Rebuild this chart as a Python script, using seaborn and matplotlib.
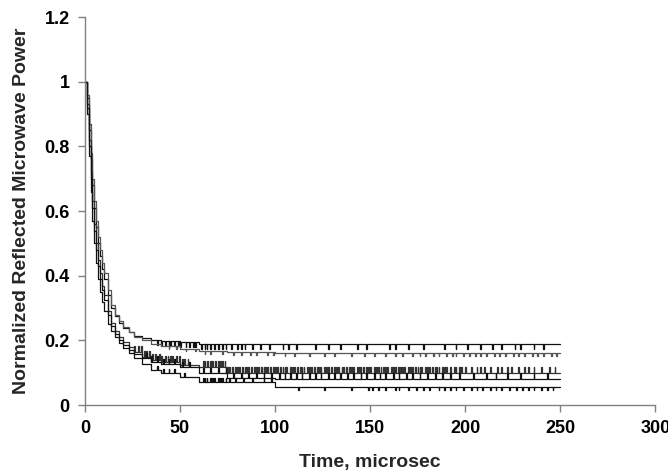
import pandas as pd
import matplotlib.pyplot as plt
import seaborn as sns

# decay knots (microsec) shared by all traces, value held until next knot
t_knots = [0, 1, 2, 3, 4, 5, 6, 7, 8, 9, 10, 12, 14, 16, 18, 20, 23, 26, 30, 35, 40, 50, 60, 75, 100]

# normalized reflected power at each knot, one list per trace
trace_a = [1.0, 0.95, 0.85, 0.76, 0.68, 0.61, 0.55, 0.50, 0.46, 0.42, 0.39, 0.34, 0.30, 0.275, 0.255, 0.24, 0.225, 0.215, 0.207, 0.202, 0.199, 0.194, 0.19, 0.188, 0.188]
trace_b = [1.0, 0.96, 0.87, 0.78, 0.70, 0.63, 0.57, 0.52, 0.48, 0.44, 0.41, 0.355, 0.31, 0.28, 0.26, 0.243, 0.225, 0.212, 0.2, 0.19, 0.182, 0.175, 0.168, 0.163, 0.162]
trace_c = [1.0, 0.93, 0.82, 0.72, 0.63, 0.56, 0.50, 0.45, 0.41, 0.37, 0.34, 0.29, 0.255, 0.23, 0.21, 0.195, 0.18, 0.165, 0.15, 0.14, 0.132, 0.125, 0.118, 0.1, 0.1]
trace_d = [1.0, 0.92, 0.80, 0.70, 0.61, 0.54, 0.48, 0.43, 0.39, 0.355, 0.325, 0.28, 0.245, 0.22, 0.2, 0.185, 0.17, 0.158, 0.145, 0.135, 0.128, 0.118, 0.1, 0.085, 0.082]
trace_e = [1.0, 0.90, 0.77, 0.66, 0.57, 0.50, 0.44, 0.39, 0.35, 0.32, 0.29, 0.25, 0.23, 0.21, 0.193, 0.178, 0.16, 0.145, 0.128, 0.108, 0.1, 0.086, 0.072, 0.072, 0.057]

# quantization flicker: blip start times and the jump size
spikes_a = [38, 40, 42, 44, 45, 47, 49, 50, 53, 55, 57, 58, 61, 63, 64, 66, 68, 70, 72, 74, 77, 80, 82, 84, 88, 92, 97, 104, 107, 111, 121, 128, 134, 143, 148, 160, 163, 170, 178, 189, 195, 201, 208, 214, 219, 226, 229, 236, 241]
delta_a = -0.015
spikes_b = [44, 48, 53, 58, 63, 66, 72, 78, 82, 87, 90, 96, 99, 105, 110, 118, 126, 131, 140, 147, 152, 158, 163, 167, 172, 176, 179, 183, 186, 190, 193, 195, 199, 202, 205, 208, 211, 215, 218, 221, 225, 228, 231, 235, 238, 241, 245, 248]
delta_b = -0.009
spikes_c = [26, 28, 29.5, 31, 32, 34, 35.5, 37, 39, 40, 42, 43.5, 45, 46, 48, 49.5, 51, 52, 54, 62, 63, 64.5, 66, 67, 68.5, 70, 71, 72, 73.5, 75, 76, 77.5, 79, 80, 81, 82.5, 84, 85, 86, 87.5, 89, 90, 91, 92.5, 94, 95, 96, 97.5, 99, 100, 101, 102.5, 104, 105, 106, 108, 109, 110, 111.5, 113, 114, 115, 117, 118, 119, 120.5, 122, 123, 124, 126, 127, 128, 129.5, 131, 132, 133, 135, 136, 137.5, 139, 140, 141, 143, 144, 145, 146.5, 148, 149, 150, 152, 153, 154, 155.5, 157, 158, 159, 161, 162, 163, 164.5, 166, 167, 168, 170, 171, 172, 173.5, 175, 176, 177, 179, 180, 181, 182.5, 184, 185, 186, 188, 189, 190, 192, 194, 195, 197, 198, 200, 203, 206, 208, 210, 213, 217, 219, 222, 224, 228, 231, 233, 236, 240, 244, 247]
delta_c = 0.019
spikes_d = [32, 35, 38, 41, 44, 47, 51, 55, 62, 66, 70, 74, 78, 82, 86, 90, 94, 98, 102, 105, 108, 111, 114, 118, 121, 124, 128, 131, 134, 138, 141, 145, 148, 152, 155, 158, 162, 165, 169, 172, 176, 180, 184, 188, 192, 197, 204, 211, 216, 222, 229, 236, 243]
delta_d = 0.016
spikes_e_up = [38, 41, 44, 47, 52, 62, 63, 64, 66, 67, 68, 70, 71, 72, 74, 76, 79, 83, 88, 94, 98]
delta_e_up = 0.013
spikes_e_down = [112, 126, 140, 149, 151, 154, 158, 163, 165, 170, 174, 178, 181, 186, 189, 192, 195, 199, 203, 206, 209, 213, 216, 219, 223, 227, 230, 233, 236, 240, 243, 246]
delta_e_down = -0.011

t_end = 250
blip = 0.45


def build(values, groups):
    pts = list(zip(t_knots, values))
    for spikes, delta in groups:
        for ts in spikes:
            base = [v for t, v in zip(t_knots, values) if t <= ts][-1]
            pts.append((ts, base + delta))
            pts.append((ts + blip, base))
    pts.append((t_end, values[-1]))
    pts.sort(key=lambda p: p[0])
    return pd.DataFrame(pts, columns=["t", "v"])


traces = [
    (trace_a, [(spikes_a, delta_a)], "#111111"),
    (trace_b, [(spikes_b, delta_b)], "#555555"),
    (trace_c, [(spikes_c, delta_c)], "#333333"),
    (trace_d, [(spikes_d, delta_d)], "#111111"),
    (trace_e, [(spikes_e_up, delta_e_up), (spikes_e_down, delta_e_down)], "#111111"),
]

sns.set_style("white")
plt.rcParams["font.family"] = ["Liberation Sans", "DejaVu Sans"]
plt.rcParams["font.weight"] = "bold"

fig = plt.figure(figsize=(6.68, 4.75), dpi=100)
ax = fig.add_axes([0.127, 0.147, 0.854, 0.817])

for vals, groups, col in traces:
    df = build(vals, groups)
    sns.lineplot(data=df, x="t", y="v", ax=ax, color=col, linewidth=0.9,
                 estimator=None, sort=False, drawstyle="steps-post")

ax.set_xlim(0, 300)
ax.set_ylim(0, 1.2)
ax.set_xticks([0, 50, 100, 150, 200, 250, 300])
ax.set_yticks([0, 0.2, 0.4, 0.6, 0.8, 1.0, 1.2])
ax.set_yticklabels(["0", "0.2", "0.4", "0.6", "0.8", "1", "1.2"])
ax.tick_params(axis="both", labelsize=13, labelcolor="black", length=5, width=1,
               direction="out", left=True, bottom=True, pad=6, color="#808080")
for s in ["top", "right"]:
    ax.spines[s].set_visible(False)
for s in ["left", "bottom"]:
    ax.spines[s].set_color("#808080")
    ax.spines[s].set_linewidth(1.0)

ax.set_xlabel("Time, microsec", fontsize=14, fontweight="bold", labelpad=12)
ax.set_ylabel("Normalized Reflected Microwave Power", fontsize=14, fontweight="bold", labelpad=10)

fig.savefig("out.png", dpi=100)
